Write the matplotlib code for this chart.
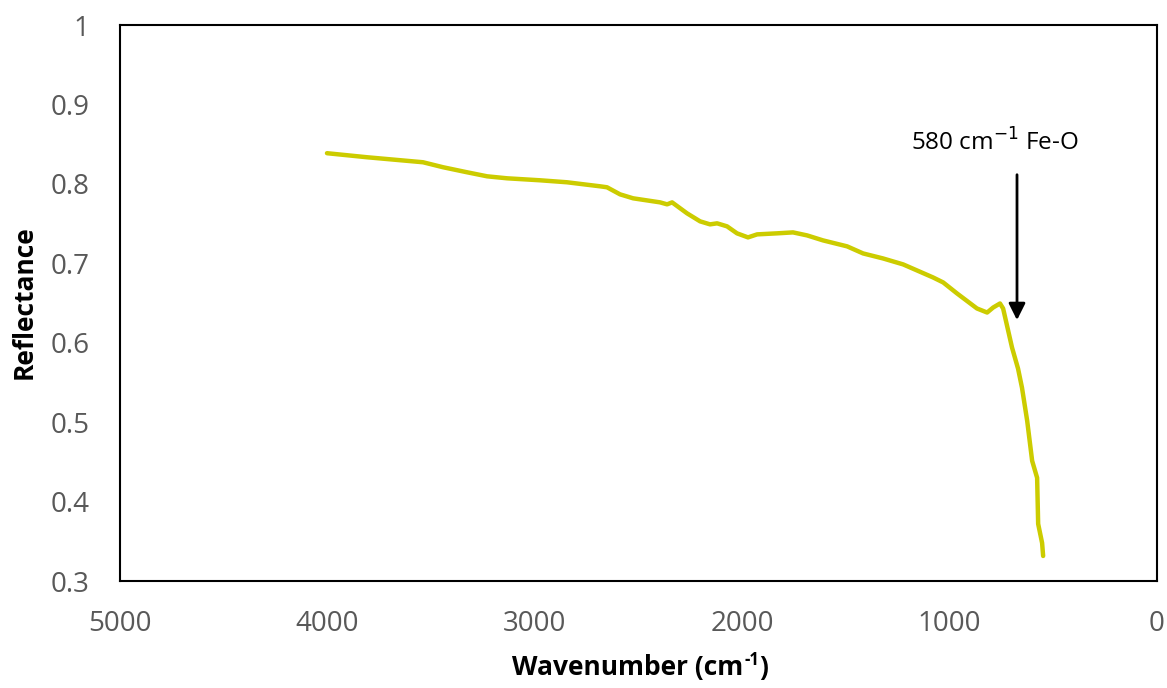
import matplotlib
matplotlib.use("Agg")
import matplotlib.pyplot as plt

wavenumber = [4002, 3809, 3539, 3442, 3327, 3230, 3134, 2975, 2845, 2685, 2652, 2589, 2526,
              2396, 2362, 2338, 2266, 2203, 2155, 2121, 2073, 2025, 1972, 1928, 1832, 1755,
              1687, 1610, 1494, 1417, 1321, 1224, 1080, 1031, 964, 868, 819, 790, 757, 742,
              699, 670, 651, 626, 602, 578, 573, 554, 549]
reflectance = [0.8386, 0.8335, 0.8272, 0.8209, 0.8146, 0.8095, 0.8070, 0.8045, 0.8020, 0.7969,
               0.7957, 0.7868, 0.7818, 0.7767, 0.7742, 0.7767, 0.7629, 0.7528, 0.7490, 0.7503,
               0.7465, 0.7377, 0.7326, 0.7364, 0.7377, 0.7389, 0.7351, 0.7288, 0.7213, 0.7124,
               0.7061, 0.6986, 0.6822, 0.6759, 0.6620, 0.6431, 0.6380, 0.6443, 0.6494, 0.6431,
               0.5939, 0.5674, 0.5434, 0.5018, 0.4513, 0.4299, 0.3719, 0.3479, 0.3315]
x_ticks = [5000, 4000, 3000, 2000, 1000, 0]
y_ticks = [0.3, 0.4, 0.5, 0.6, 0.7, 0.8, 0.9, 1.0]
y_tick_labels = ["0.3", "0.4", "0.5", "0.6", "0.7", "0.8", "0.9", "1"]

plt.rcParams['font.family'] = ['Open Sans', 'DejaVu Sans']
fig = plt.figure(figsize=(11.67, 6.88), dpi=100)
ax = fig.add_axes([120/1167, 107/688, 1037/1167, 556/688])
ax.plot(wavenumber, reflectance, color='#CCCC00', lw=3.2, solid_capstyle='round')
ax.set_xlim(5000, 0)
ax.set_ylim(0.3, 1.0)
ax.set_xticks(x_ticks)
ax.set_xticklabels([str(v) for v in x_ticks])
ax.set_yticks(y_ticks)
ax.set_yticklabels(y_tick_labels)
ax.tick_params(length=0, labelsize=20, labelcolor='#595959')
ax.tick_params(axis='x', pad=21)
ax.tick_params(axis='y', pad=22)
for s in ax.spines.values():
    s.set_linewidth(1.5)
    s.set_color('black')

# x-axis label with a hyphen superscript
xl_main = fig.text(628/1167, 1 - 668/688, 'Wavenumber (cm', fontsize=19,
                   fontweight='bold', ha='center', va='center')
fig.canvas.draw()
bb = xl_main.get_window_extent()
sup = fig.text(bb.x1 / 1167 + 0.0005, 1 - 660/688, '-1', fontsize=12, fontweight='bold',
               ha='left', va='center')
fig.canvas.draw()
bb2 = sup.get_window_extent()
fig.text(bb2.x1 / 1167 + 0.0005, 1 - 668/688, ')', fontsize=19, fontweight='bold',
         ha='left', va='center')

fig.text(24/1167, 1 - 302/688, 'Reflectance', fontsize=19, fontweight='bold',
         ha='center', va='center', rotation=90)
ax.annotate('', xy=(675, 0.625), xytext=(675, 0.815),
            arrowprops=dict(arrowstyle='-|>', color='black', lw=2, mutation_scale=25))
ax.text(780, 0.852, '580 cm$^{-1}$ Fe-O', fontsize=17.5, ha='center', va='center', color='black')
fig.savefig('out.png', dpi=100)
